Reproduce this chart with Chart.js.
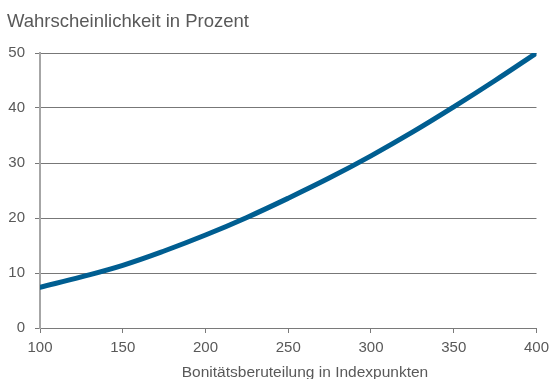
<!DOCTYPE html>
<html>
<head>
<meta charset="utf-8">
<script src="https://cdn.jsdelivr.net/npm/chart.js@4"></script>
<style>
html,body{margin:0;padding:0;background:#fff;}
canvas{display:block;}
</style>
</head>
<body>
<canvas id="c" width="555" height="379"></canvas>
<script>
const titleText = "Wahrscheinlichkeit in Prozent";
const xAxisTitle = "Bonitätsberuteilung in Indexpunkten";
const xValues = [100, 125, 150, 175, 200, 225, 250, 275, 300, 325, 350, 375, 400];
const yValues = [7.4, 9.3, 11.4, 14.0, 16.9, 20.1, 23.6, 27.3, 31.3, 35.6, 40.2, 45.0, 50.0];
const xTicks = [100, 150, 200, 250, 300, 350, 400];
const yTicks = [0, 10, 20, 30, 40, 50];

const FONT = "'Liberation Sans', Arial, sans-serif";
const TEXT = '#595959';

const textPlugin = {
  id: 'texts',
  afterDraw(chart) {
    const ctx = chart.ctx;
    ctx.save();
    ctx.fillStyle = TEXT;
    ctx.textBaseline = 'alphabetic';
    ctx.font = "18.5px " + FONT;
    ctx.textAlign = 'left';
    ctx.fillText(titleText, 7, 27);
    ctx.font = "15.5px " + FONT;
    ctx.textAlign = 'center';
    ctx.fillText(xAxisTitle, 305, 377);
    ctx.restore();
  }
};

new Chart(document.getElementById('c'), {
  type: 'line',
  data: {
    datasets: [{
      data: xValues.map((x, i) => ({x: x, y: yValues[i]})),
      borderColor: '#005e91',
      borderWidth: 5,
      borderCapStyle: 'round',
      borderJoinStyle: 'round',
      pointRadius: 0,
      tension: 0.4,
      fill: false
    }]
  },
  options: {
    responsive: false,
    animation: false,
    events: [],
    layout: {padding: {top: 53, right: 14, bottom: 0, left: 0}},
    plugins: {legend: {display: false}, tooltip: {enabled: false}, title: {display: false}},
    scales: {
      x: {
        type: 'linear',
        min: 100, max: 400,
        afterBuildTicks(scale) { scale.ticks = xTicks.map(v => ({value: v})); },
        afterFit(scale) { scale.height = 51; },
        grid: {drawOnChartArea: false, drawTicks: true, tickLength: 5, color: '#7a7a7a', lineWidth: 1},
        border: {display: true, color: '#7a7a7a', width: 1},
        ticks: {color: TEXT, font: {family: FONT, size: 15}, padding: 6, maxRotation: 0}
      },
      y: {
        min: 0, max: 50,
        afterBuildTicks(scale) { scale.ticks = yTicks.map(v => ({value: v})); },
        afterFit(scale) { scale.width = 40; },
        grid: {drawOnChartArea: true, drawTicks: true, tickLength: 5, color: '#777777', lineWidth: 1},
        border: {display: true, color: '#a6a6a6', width: 2},
        ticks: {color: TEXT, font: {family: FONT, size: 15}, padding: 10}
      }
    }
  },
  plugins: [textPlugin]
});
</script>
</body>
</html>
